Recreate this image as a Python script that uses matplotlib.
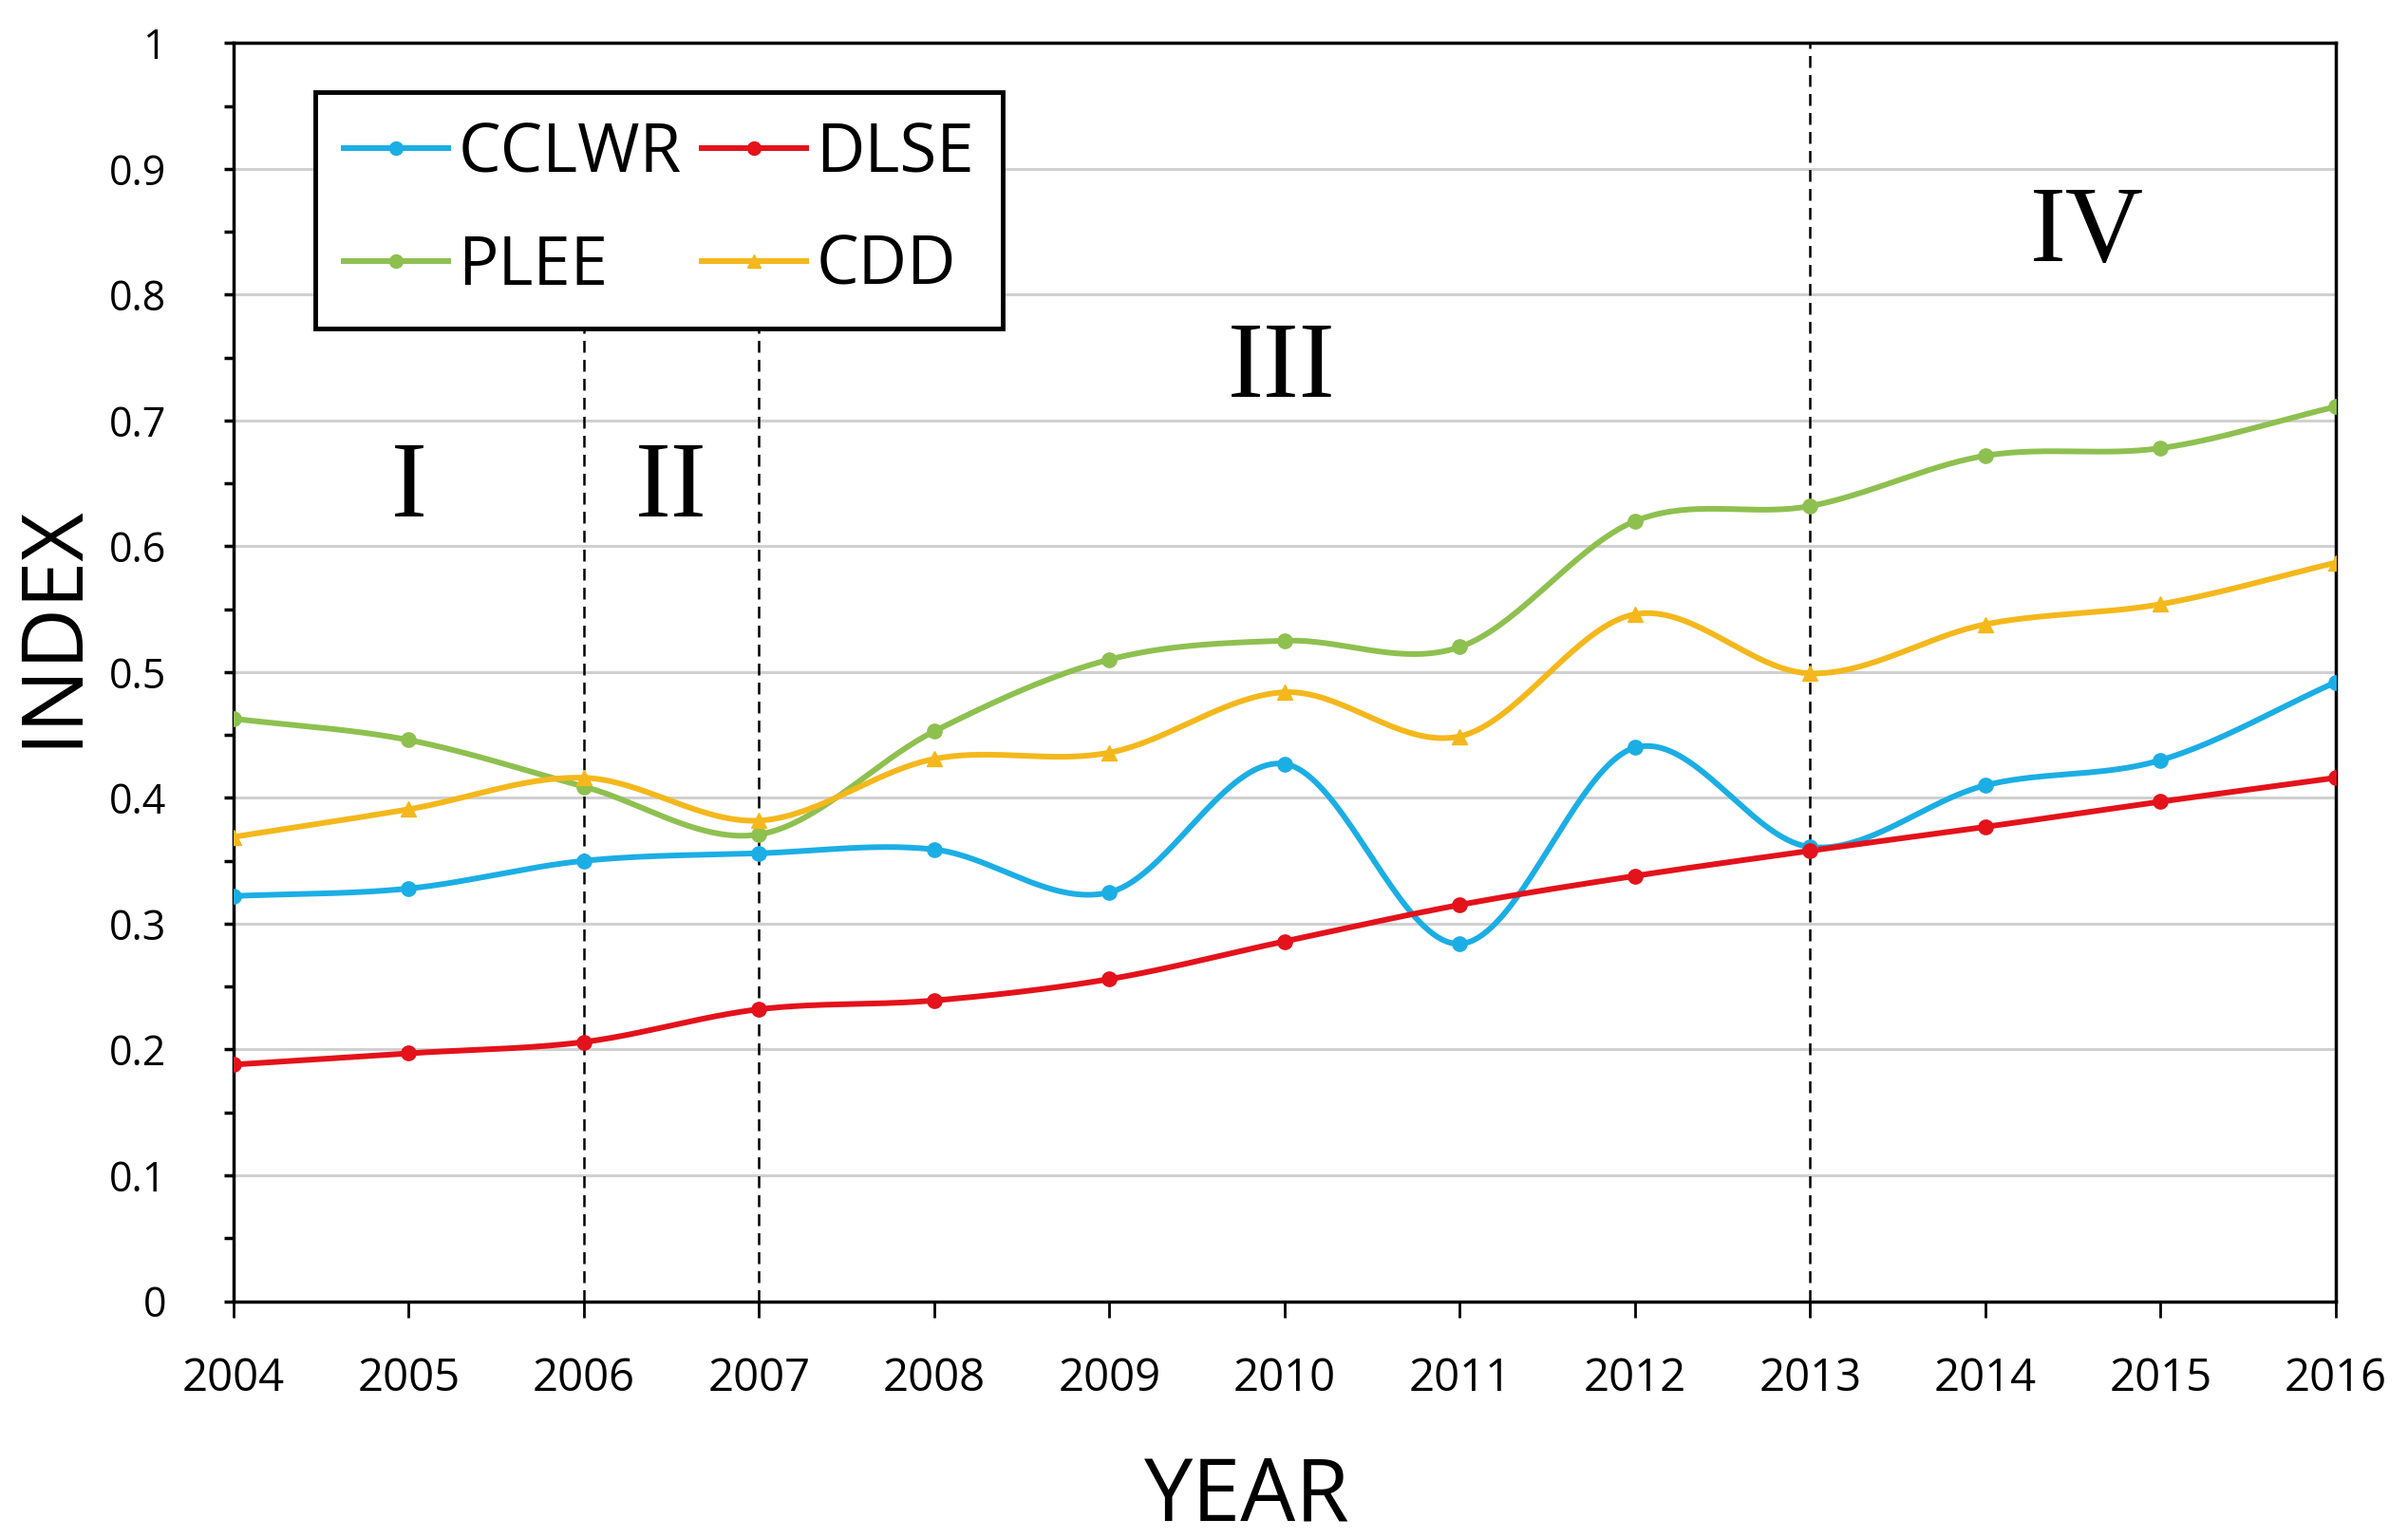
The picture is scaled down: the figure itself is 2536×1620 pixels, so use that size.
import numpy as np
import matplotlib
matplotlib.use('Agg')
import matplotlib.pyplot as plt

# Data
years = [2004, 2005, 2006, 2007, 2008, 2009, 2010, 2011, 2012, 2013, 2014, 2015, 2016]
cclwr = [0.322, 0.328, 0.350, 0.356, 0.359, 0.325, 0.427, 0.284, 0.440, 0.361, 0.410, 0.430, 0.492]
dlse = [0.188, 0.197, 0.206, 0.232, 0.239, 0.256, 0.286, 0.315, 0.338, 0.358, 0.377, 0.397, 0.416]
plee = [0.463, 0.446, 0.409, 0.371, 0.453, 0.510, 0.525, 0.520, 0.620, 0.632, 0.672, 0.678, 0.711]
cdd = [0.369, 0.391, 0.416, 0.382, 0.431, 0.436, 0.484, 0.449, 0.546, 0.499, 0.538, 0.554, 0.587]

stage_labels = ['I', 'II', 'III', 'IV']
stage_x = [2005, 2006.5, 2009.98, 2014.58]
stage_y = [0.645, 0.645, 0.740, 0.848]
breaks = [2006, 2007, 2013]

plt.rcParams['font.family'] = ['Open Sans', 'DejaVu Sans']


def smooth(x, y, n=40):
    # Catmull-Rom curve through the points, like Excel's smoothed line
    p = np.column_stack([x, y]).astype(float)
    p = np.vstack([2 * p[0] - p[1], p, 2 * p[-1] - p[-2]])
    t = np.linspace(0, 1, n)[:, None]
    out = []
    for i in range(1, len(p) - 2):
        p0, p1, p2, p3 = p[i - 1], p[i], p[i + 1], p[i + 2]
        seg = 0.5 * ((2 * p1) + (-p0 + p2) * t + (2 * p0 - 5 * p1 + 4 * p2 - p3) * t ** 2
                     + (-p0 + 3 * p1 - 3 * p2 + p3) * t ** 3)
        out.append(seg if i == 1 else seg[1:])
    out = np.vstack(out)
    return out[:, 0], out[:, 1]


fig = plt.figure(figsize=(25.36, 16.2), dpi=100)
ax = fig.add_axes([0.097, 0.154, 0.873, 0.818])

series = {
    'CCLWR': (cclwr, '#1BAEE4', 'o'),
    'DLSE': (dlse, '#E3121B', 'o'),
    'PLEE': (plee, '#8EC050', 'o'),
    'CDD': (cdd, '#F4B81C', '^'),
}
handles = {}
for name, (vals, col, mk) in series.items():
    sx, sy = smooth(years, vals)
    ax.plot(sx, sy, color=col, lw=4.3, zorder=3)
    ax.plot(years, vals, linestyle='none', marker=mk, ms=11, color=col, zorder=4)
    handles[name], = ax.plot([], [], color=col, lw=4.3, marker=mk, ms=10, label=name)

# stage separators
ax.plot([breaks[0], breaks[0]], [0, 0.775], color='black', lw=1.8, ls=(0, (5, 3)), zorder=2)
ax.plot([breaks[1], breaks[1]], [0, 0.775], color='black', lw=1.8, ls=(0, (5, 3)), zorder=2)
ax.plot([breaks[2], breaks[2]], [0, 1.0], color='black', lw=1.8, ls=(0, (5, 3)), zorder=2)

for lab, x, y in zip(stage_labels, stage_x, stage_y):
    ax.text(x, y, lab, family=['Liberation Serif', 'DejaVu Serif'], fontsize=82,
            ha='center', va='center')

ax.set_xlim(2004, 2016)
ax.set_ylim(0, 1)
ax.set_xticks(years)
ax.set_yticks(np.arange(0, 1.01, 0.1))
ax.set_yticklabels(['0', '0.1', '0.2', '0.3', '0.4', '0.5', '0.6', '0.7', '0.8', '0.9', '1'])
ax.set_yticks(np.arange(0.05, 1.0, 0.1), minor=True)
ax.yaxis.grid(True, color='#D0D0D0', lw=2.2, zorder=0)
ax.set_axisbelow(True)

ax.tick_params(axis='x', direction='out', length=12, width=2, pad=30, labelsize=34)
ax.tick_params(axis='y', which='major', direction='out', length=7, width=2.5, pad=44, labelsize=31)
ax.tick_params(axis='y', which='minor', direction='out', length=7, width=2.5)
for s in ax.spines.values():
    s.set_linewidth(2.5)

ax.set_xlabel('YEAR', fontsize=66, labelpad=40)
ax.xaxis.label.set_x(0.482)
ax.set_ylabel('INDEX', fontsize=64, labelpad=10)
ax.yaxis.label.set_y(0.537)

order = ['CCLWR', 'PLEE', 'DLSE', 'CDD']
leg = ax.legend([handles[k] for k in order], order, loc='upper left',
                bbox_to_anchor=(0.039, 0.961), borderaxespad=0, ncol=2, fontsize=51,
                handlelength=1.55, handletextpad=0.15, columnspacing=0.3,
                labelspacing=0.66, borderpad=0.42, fancybox=False, framealpha=1,
                edgecolor='black')
leg.get_frame().set_linewidth(3.5)

plt.savefig('out.png', dpi=100)
